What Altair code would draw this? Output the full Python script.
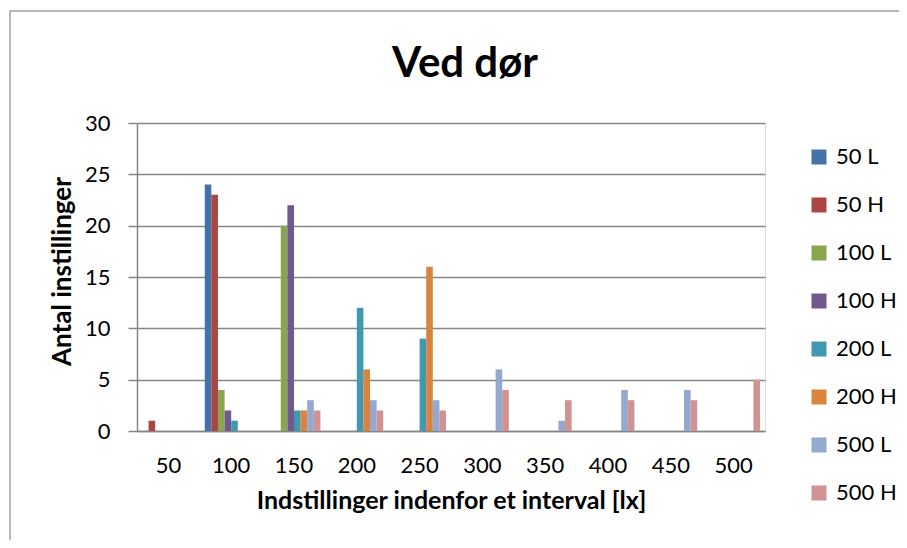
import altair as alt
import pandas as pd

categories = [50, 100, 150, 200, 250, 300, 350, 400, 450, 500]
series_names = ["50 L", "50 H", "100 L", "100 H", "200 L", "200 H", "500 L", "500 H"]
colors = ["#4572A7", "#AA4643", "#89A54E", "#71588F", "#4198AF", "#DB843D", "#93A9CF", "#D19392"]

s_50L = [0, 24, 0, 0, 0, 0, 0, 0, 0, 0]
s_50H = [1, 23, 0, 0, 0, 0, 0, 0, 0, 0]
s_100L = [0, 4, 20, 0, 0, 0, 0, 0, 0, 0]
s_100H = [0, 2, 22, 0, 0, 0, 0, 0, 0, 0]
s_200L = [0, 1, 2, 12, 9, 0, 0, 0, 0, 0]
s_200H = [0, 0, 2, 6, 16, 0, 0, 0, 0, 0]
s_500L = [0, 0, 3, 3, 3, 6, 1, 4, 4, 0]
s_500H = [0, 0, 2, 2, 2, 4, 3, 3, 3, 5]

all_series = [s_50L, s_50H, s_100L, s_100H, s_200L, s_200H, s_500L, s_500H]

rows = []
for name, vals in zip(series_names, all_series):
    for c, v in zip(categories, vals):
        rows.append({"cat": c, "series": name, "value": v})
df = pd.DataFrame(rows)

FONT = "Lato"

bars = alt.Chart(df).mark_bar().encode(
    x=alt.X("cat:O", sort=categories,
            scale=alt.Scale(paddingInner=0.158, paddingOuter=0.079),
            axis=alt.Axis(title="Indstillinger indenfor et interval [lx]",
                          labelAngle=0, ticks=False, tickSize=0, labelPadding=24,
                          labelFontSize=22, labelFont=FONT, labelColor="black",
                          titleFont=FONT, titleFontSize=25, titleFontWeight="bold",
                          titleColor="black", titlePadding=12,
                          domainColor="#868686", domainWidth=1.5, grid=False)),
    xOffset=alt.XOffset("series:N", sort=series_names,
                        scale=alt.Scale(paddingInner=0, paddingOuter=0)),
    y=alt.Y("value:Q", scale=alt.Scale(domain=[0, 30], nice=False),
            axis=alt.Axis(title="Antal instillinger", values=[0, 5, 10, 15, 20, 25, 30],
                          tickSize=9, tickColor="#868686", tickWidth=1.5,
                          labelPadding=18, labelFontSize=22, labelFont=FONT,
                          labelColor="black",
                          titleFont=FONT, titleFontSize=26, titleFontWeight="bold",
                          titleColor="black", titleX=-75, titleY=148,
                          titleAlign="center", titleBaseline="middle",
                          domainColor="#868686", domainWidth=1.5,
                          gridColor="#868686", gridWidth=1.5)),
    color=alt.Color("series:N", sort=series_names,
                    scale=alt.Scale(domain=series_names, range=colors),
                    legend=alt.Legend(title=None, orient="none", legendX=671, legendY=23,
                                      symbolType="square", symbolSize=225,
                                      symbolStrokeWidth=0, labelFontSize=22,
                                      labelFont=FONT, labelColor="black",
                                      labelOffset=6, rowPadding=26, padding=0)),
)

frame = alt.Chart(pd.DataFrame({"a": [0]})).mark_rect(
    fill=None, stroke="#a0a0a0", strokeWidth=1.5
).encode(
    x=alt.value(-127), x2=alt.value(1200), y=alt.value(-112), y2=alt.value(800)
)

chart = alt.layer(frame, bars).properties(
    width=628, height=308,
    title=alt.TitleParams("Ved dør", font=FONT, fontSize=42, fontWeight="bold",
                          color="black", anchor="middle", frame="group", dx=14,
                          offset=-109, baseline="alphabetic"),
    autosize=alt.AutoSizeParams(type="none"),
    padding={"left": 129, "top": 115, "right": 134, "bottom": 109},
).configure_view(stroke=None).configure(background="white")

chart.save("out.html", embed_options={"renderer": "svg", "actions": False})
